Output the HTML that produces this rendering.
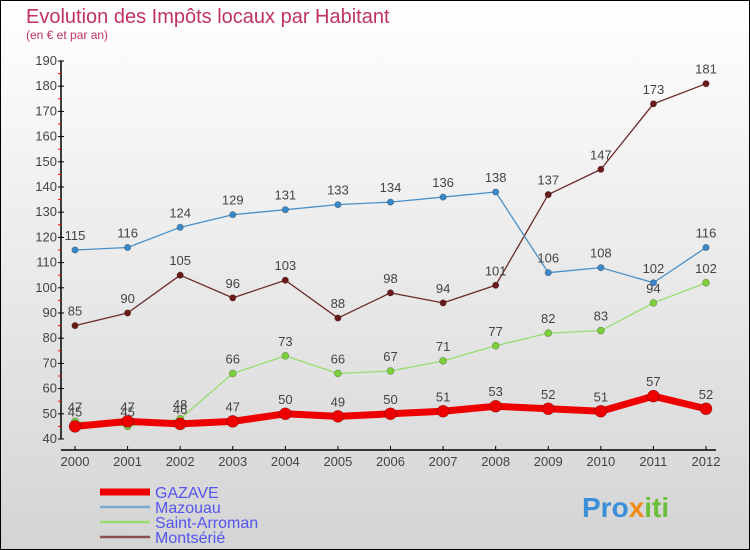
<!DOCTYPE html>
<html><head><meta charset="utf-8"><style>
html,body{margin:0;padding:0}
body{width:750px;height:550px;overflow:hidden;font-family:"Liberation Sans",sans-serif}
#wrap{position:absolute;left:0;top:0;width:748px;height:548px;border:1px solid #000;background:linear-gradient(#ffffff,#d4d4d4)}
</style></head><body>
<div id="wrap">
<svg id="chart" width="750" height="550" style="position:absolute;left:-1px;top:-1px">
<text x="26" y="23" font-size="20" fill="#c0335f">Evolution des Impôts locaux par Habitant</text>
<text x="26" y="39" font-size="12" fill="#c0335f">(en € et par an)</text>
<g id="axes"></g>
<g id="series"></g>
<g id="legend"></g>
<g>
<text x="582" y="517" font-size="28" font-weight="bold" fill="#3a8fd8">Pro<tspan fill="#f08a1a">x</tspan><tspan fill="#6cbf3a">iti</tspan></text>
</g>
</svg>
</div>
<script>
const years=[2000,2001,2002,2003,2004,2005,2006,2007,2008,2009,2010,2011,2012];
const yTicks=[40,50,60,70,80,90,100,110,120,130,140,150,160,170,180,190];
const gazave=[45,47,46,47,50,49,50,51,53,52,51,57,52];
const mazouau=[115,116,124,129,131,133,134,136,138,106,108,102,116];
const saintArroman=[47,45,48,66,73,66,67,71,77,82,83,94,102];
const montserie=[85,90,105,96,103,88,98,94,101,137,147,173,181];
const NS="http://www.w3.org/2000/svg";
const xS=i=>75+i*(706-75)/12;
const yS=v=>439-(v-40)*(439-61)/150;
function mk(tag,attrs,parent){const e=document.createElementNS(NS,tag);for(const k in attrs)e.setAttribute(k,attrs[k]);parent.appendChild(e);return e;}
const axes=document.getElementById('axes');
const ya=mk('line',{x1:61,y1:61,x2:61,y2:439,stroke:'#000','stroke-width':1.5},axes);


const xa=mk('line',{x1:61,y1:450,x2:716,y2:450,stroke:'#000','stroke-width':1.5},axes);


yTicks.forEach((t,i)=>{const y=yS(t);
mk('line',{x1:58,y1:y,x2:64,y2:y,stroke:'#000'},axes);
if(i<yTicks.length-1){mk('line',{x1:58,y1:yS(t+5),x2:61,y2:yS(t+5),stroke:'#f00'},axes);}
const tx=mk('text',{x:57,y:y+4,'font-size':13,fill:'#444','text-anchor':'end'},axes);tx.textContent=t;

});
years.forEach((yr,i)=>{const x=xS(i);mk('line',{x1:x,y1:446,x2:x,y2:450,stroke:'#000'},axes);
const tx=mk('text',{x:x,y:466,'font-size':13,fill:'#444','text-anchor':'middle'},axes);tx.textContent=yr;

});
const ser=document.getElementById('series');
function draw(vals,color,dot,w,r,name){const g=mk('g',{},ser);


mk('polyline',{points:vals.map((v,i)=>xS(i)+','+yS(v)).join(' '),fill:'none',stroke:color,'stroke-width':w,'stroke-linejoin':'round'},g);
vals.forEach((v,i)=>{const c=mk('circle',{cx:xS(i),cy:yS(v),r:r,fill:dot,stroke:'rgba(0,0,0,0.3)','stroke-width':0.7},g);


const t=mk('text',{x:xS(i),y:yS(v)-10,'font-size':13,fill:'#444','text-anchor':'middle'},g);t.textContent=v;

});}
draw(montserie,'#6b2a2a','#6b1a1a',1.3,3.2,'series-montserie');
draw(mazouau,'#4a90c8','#3a88c8',1.3,3.2,'series-mazouau');
draw(saintArroman,'#98dc70','#7cd03a',1.3,3.5,'series-saint-arroman');
draw(gazave,'#ee0000','#ee0000',7,6,'series-gazave');
const lg=document.getElementById('legend');
const items=[['GAZAVE','#ee0000',7],['Mazouau','#7aaad0',2.5],['Saint-Arroman','#98dc70',2.5],['Montsérié','#8a5050',2.5]];
items.forEach((it,i)=>{const y=492+i*15;const g=mk('g',{},lg);


mk('line',{x1:100,y1:y,x2:150,y2:y,stroke:it[1],'stroke-width':it[2]},g);
const t=mk('text',{x:155,y:y+6,'font-size':16,fill:'#5555ee'},g);t.textContent=it[0];});
</script>
</body></html>
